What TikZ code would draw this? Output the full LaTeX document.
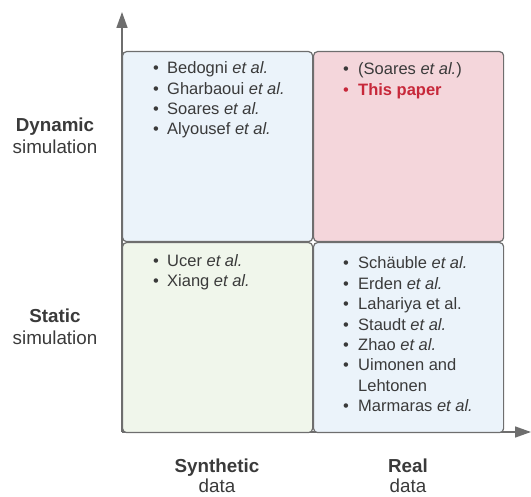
\documentclass[tikz,border=0pt]{standalone}
\usepackage{fontspec}
\setmainfont{Liberation Sans}
\usetikzlibrary{arrows.meta}
\definecolor{txt}{HTML}{3A3A3A}
\definecolor{edge}{HTML}{6E6E6E}
\definecolor{blu}{HTML}{EBF3FA}
\definecolor{pnk}{HTML}{F4D6DB}
\definecolor{grn}{HTML}{F0F6EB}
\definecolor{redt}{HTML}{C7283A}
\begin{document}
\begin{tikzpicture}[x=1pt,y=-1pt,
  quad/.style={draw=edge, line width=1.2pt, rounded corners=4pt, anchor=north west,
    inner sep=0pt, minimum width=190pt, minimum height=190pt},
  item/.style={anchor=base west, inner sep=0pt, text=txt, font=\fontsize{16.5}{20}\selectfont},
  dot/.style={anchor=base, inner sep=0pt, text=txt, font=\fontsize{16.5}{20}\selectfont},
  axlab/.style={anchor=base, inner sep=0pt, text=txt, font=\fontsize{18.8}{22}\selectfont},
  axis/.style={draw=edge, line width=1.6pt, -{Triangle[length=16pt,width=11pt]}}]
\useasboundingbox (0,0) rectangle (531,497);
\coordinate (origin) at (122,432);
\coordinate (ytip) at (122,12);
\coordinate (xtip) at (531,432);
\draw[axis] (origin) -- (ytip);
\draw[axis] (origin) -- (xtip);
\node[quad, fill=blu] (tl) at (122,51) {};
\node[quad, fill=pnk] (tr) at (313,51) {};
\node[quad, fill=grn] (bl) at (122,242) {};
\node[quad, fill=blu] (br) at (313,242) {};
% top left
\node[dot] (d1) at (156,74) {•}; \node[item] (t1) at (167,74) {Bedogni \textit{et al.}};
\node[dot] (d2) at (156,94.3) {•}; \node[item] (t2) at (167,94.3) {Gharbaoui \textit{et al.}};
\node[dot] (d3) at (156,114.6) {•}; \node[item] (t3) at (167,114.6) {Soares \textit{et al.}};
\node[dot] (d4) at (156,135) {•}; \node[item] (t4) at (167,135) {Alyousef \textit{et al.}};
% top right
\node[dot] (e1) at (346,75) {•}; \node[item] (u1) at (358,75) {(Soares \textit{et al.})};
\node[dot, text=redt] (e2) at (346,95.5) {•}; \node[item, text=redt] (u2) at (358,95.5) {\bfseries This paper};
% bottom left
\node[dot] (f1) at (156,267) {•}; \node[item] (v1) at (167,267) {Ucer \textit{et al.}};
\node[dot] (f2) at (156,287) {•}; \node[item] (v2) at (167,287) {Xiang \textit{et al.}};
% bottom right
\node[dot] (g1) at (346,269) {•}; \node[item] (w1) at (358,269) {Schäuble \textit{et al.}};
\node[dot] (g2) at (346,289.4) {•}; \node[item] (w2) at (358,289.4) {Erden \textit{et al.}};
\node[dot] (g3) at (346,309.8) {•}; \node[item] (w3) at (358,309.8) {Lahariya et al.};
\node[dot] (g4) at (346,330.2) {•}; \node[item] (w4) at (358,330.2) {Staudt \textit{et al.}};
\node[dot] (g5) at (346,350.6) {•}; \node[item] (w5) at (358,350.6) {Zhao \textit{et al.}};
\node[dot] (g6) at (346,371) {•}; \node[item] (w6) at (358,371) {Uimonen and};
\node[item] (w7) at (358,391.4) {Lehtonen};
\node[dot] (g8) at (346,411.8) {•}; \node[item] (w8) at (358,411.8) {Marmaras \textit{et al.}};
% axis labels
\node[axlab] (dyn1) at (55,132) {\bfseries Dynamic};
\node[axlab] (dyn2) at (55,154) {simulation};
\node[axlab] (sta1) at (55,323) {\bfseries Static};
\node[axlab] (sta2) at (55,345) {simulation};
\node[axlab] (syn1) at (217,472) {\bfseries Synthetic};
\node[axlab] (syn2) at (217,493) {data};
\node[axlab] (rea1) at (408,472) {\bfseries Real};
\node[axlab] (rea2) at (408,493) {data};
\end{tikzpicture}
\end{document}
